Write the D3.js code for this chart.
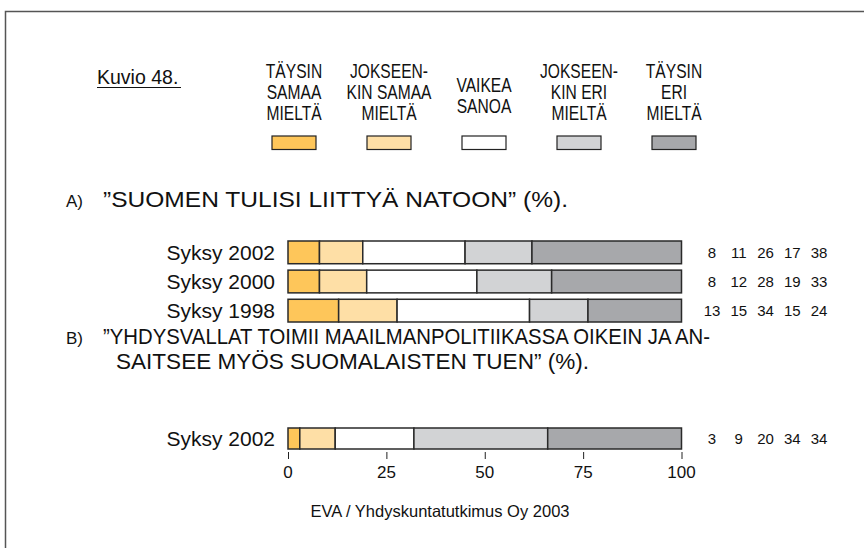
<!DOCTYPE html>
<html>
<head>
<meta charset="utf-8">
<script src="https://cdn.jsdelivr.net/npm/d3@7"></script>
<style>
  html, body { margin: 0; padding: 0; background: #fff; }
  svg { display: block; }
  text { font-family: "Liberation Sans", Arial, sans-serif; fill: #111; }
</style>
</head>
<body>
<svg id="chart" width="864" height="548"></svg>
<script>
// Response categories (legend order = stacking order)
const categories = [
  ["TÄYSIN", "SAMAA", "MIELTÄ"],
  ["JOKSEEN-", "KIN SAMAA", "MIELTÄ"],
  ["VAIKEA", "SANOA"],
  ["JOKSEEN-", "KIN ERI", "MIELTÄ"],
  ["TÄYSIN", "ERI", "MIELTÄ"]
];
const colors = ["#fec65a", "#fedfa6", "#ffffff", "#d2d3d5", "#a7a8ab"];

// A) "Suomen tulisi liittyä Natoon"
const rowsA = ["Syksy 2002", "Syksy 2000", "Syksy 1998"];
const valuesA = [
  [8, 11, 26, 17, 38],
  [8, 12, 28, 19, 33],
  [13, 15, 34, 15, 24]
];

// B) "Yhdysvallat toimii maailmanpolitiikassa oikein..."
const rowsB = ["Syksy 2002"];
const valuesB = [
  [3, 9, 20, 34, 34]
];

const ticks = [0, 25, 50, 75, 100];

const svg = d3.select("#chart");

// frame
svg.append("path")
  .attr("d", "M5.5,548 V11.5 H864")
  .attr("fill", "none").attr("stroke", "#555").attr("stroke-width", 1.5);

function label(x, y, str, size, anchor, sx) {
  return svg.append("text")
    .attr("transform", `translate(${x},${y}) scale(${sx || 1},1)`)
    .attr("text-anchor", anchor || "start")
    .attr("font-size", size)
    .text(str);
}
// a title line set to a fixed measure
function titleLine(x, y, str, len) {
  return label(x, y, str, 22.5)
    .attr("textLength", len).attr("lengthAdjust", "spacingAndGlyphs");
}

// figure number
label(97, 84, "Kuvio 48.", 19.5);
svg.append("line").attr("x1", 97).attr("x2", 181).attr("y1", 87.5).attr("y2", 87.5)
  .attr("stroke", "#111").attr("stroke-width", 1.2);

// legend
const legendX = d3.scalePoint().domain(d3.range(categories.length)).range([294, 674]);
categories.forEach((lines, i) => {
  const cx = legendX(i);
  const base = lines.length === 3 ? 78 : 92;
  lines.forEach((ln, j) => {
    label(cx, base + j * 21, ln, 19.5, "middle", 0.8);
  });
  svg.append("rect")
    .attr("x", cx - 22).attr("y", 136).attr("width", 44).attr("height", 13.5)
    .attr("fill", colors[i]).attr("stroke", "#222").attr("stroke-width", 1.2);
});

// x scale shared by both panels
const x = d3.scaleLinear().domain([0, 100]).range([288, 681.5]);
const valueCols = d3.scalePoint().domain(d3.range(5)).range([712, 819]);

function panel(rows, values, y) {
  const g = svg.append("g");
  rows.forEach((r, ri) => {
    const vals = values[ri];
    const total = d3.sum(vals);
    const cum = d3.cumsum(vals);
    const yTop = y(r);
    const h = y.bandwidth();
    label(275, yTop + h / 2 + 7.5, r, 21, "end");
    g.selectAll(null).data(vals).enter().append("rect")
      .attr("x", (v, k) => x(((cum[k] - v) / total) * 100))
      .attr("y", yTop)
      .attr("width", (v) => x(v / total * 100) - x(0))
      .attr("height", h)
      .attr("fill", (v, k) => colors[k])
      .attr("stroke", "#2a2a2a").attr("stroke-width", 1.5);
    vals.forEach((v, k) => label(valueCols(k), yTop + h / 2 + 5.5, String(v), 15, "middle"));
  });
}

// panel A
label(66, 207, "A)", 17);
titleLine(103, 207, "”SUOMEN TULISI LIITTYÄ NATOON” (%).", 465);
const yA = d3.scaleBand().domain(rowsA).range([241, 322]).paddingInner(0.22).paddingOuter(0);
panel(rowsA, valuesA, yA);

// panel B
label(66, 344, "B)", 17);
titleLine(103, 344, "”YHDYSVALLAT TOIMII MAAILMANPOLITIIKASSA OIKEIN JA AN-", 607);
titleLine(116, 369, "SAITSEE MYÖS SUOMALAISTEN TUEN” (%).", 473);
const yB = d3.scaleBand().domain(rowsB).range([428, 449]);
panel(rowsB, valuesB, yB);

// axis
const axis = svg.append("g").attr("transform", "translate(0,452)")
  .call(d3.axisBottom(x).tickValues(ticks).tickSize(7).tickPadding(4).tickFormat(d3.format("d")));
axis.select(".domain").remove();
axis.selectAll("line").attr("stroke", "#222");
axis.selectAll("text").remove();
ticks.forEach(t => label(x(t), 478, String(t), 17, "middle"));

// source
label(440, 517, "EVA / Yhdyskuntatutkimus Oy 2003", 16.5, "middle");
</script>
</body>
</html>
